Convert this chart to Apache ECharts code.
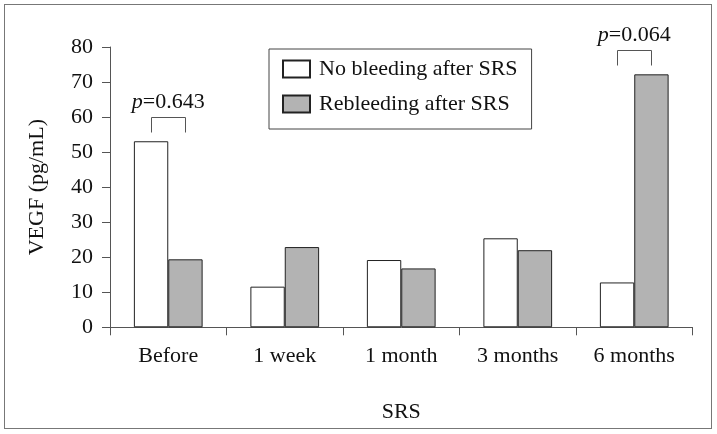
<!DOCTYPE html>
<html>
<head>
<meta charset="utf-8">
<script src="https://cdn.jsdelivr.net/npm/echarts@6/dist/echarts.min.js"></script>
<style>
html,body{margin:0;padding:0;background:#fff;}
#frame{position:absolute;left:4px;top:4px;width:708px;height:425px;border:1.5px solid #777;box-sizing:border-box;}
#chart{position:absolute;left:0;top:0;width:717px;height:434px;}
</style>
</head>
<body>
<div id="frame"></div>
<div id="chart"></div>
<script>
var categories = ['Before', '1 week', '1 month', '3 months', '6 months'];
var noBleeding = [53.1, 11.6, 19.2, 25.4, 12.8];
var rebleeding = [19.4, 22.9, 16.8, 22.0, 72.2];
var seriesNames = ['No bleeding after SRS', 'Rebleeding after SRS'];
var yTicks = [0, 10, 20, 30, 40, 50, 60, 70, 80];
var pCategories = [0, 4];
var pValues = ['0.643', '0.064'];
var pBracketLevels = [60, 79.2];

var FONT = 'Liberation Serif';
var FS = 22;
var AXIS = '#555';
var BAR_FRAC = 0.295;

function draw() {
  var chart = echarts.init(document.getElementById('chart'), null, {renderer: 'canvas'});
  var annData = pCategories.map(function (c, i) { return [c, pBracketLevels[i], pValues[i]]; });

  var option = {
    animation: false,
    textStyle: {fontFamily: FONT},
    grid: {left: 110, right: 24.5, top: 47, bottom: 106.7},
    legend: {
      left: 269, top: 49,
      orient: 'vertical',
      itemWidth: 27, itemHeight: 17, itemGap: 13,
      padding: [9, 14, 14, 13],
      borderColor: '#444', borderWidth: 1,
      textStyle: {fontFamily: FONT, fontSize: FS, color: '#111', padding: [0, 0, 0, 4]},
      data: seriesNames.map(function (n) { return {name: n, icon: 'rect'}; })
    },
    xAxis: {
      type: 'category',
      data: categories,
      name: 'SRS',
      nameLocation: 'middle',
      nameGap: 74,
      nameTextStyle: {fontFamily: FONT, fontSize: FS, color: '#111'},
      axisLine: {lineStyle: {color: AXIS, width: 1}},
      axisTick: {show: true, length: 8, lineStyle: {color: AXIS}},
      axisLabel: {fontFamily: FONT, fontSize: FS, color: '#111', margin: 18}
    },
    yAxis: {
      type: 'value',
      min: yTicks[0], max: yTicks[yTicks.length - 1], interval: 10,
      name: 'VEGF (pg/mL)',
      nameLocation: 'middle',
      nameGap: 62,
      nameRotate: 90,
      nameTextStyle: {fontFamily: FONT, fontSize: FS, color: '#111'},
      axisLine: {show: true, lineStyle: {color: AXIS, width: 1}},
      axisTick: {show: true, length: 8, lineStyle: {color: AXIS}},
      axisLabel: {fontFamily: FONT, fontSize: FS, color: '#111', margin: 17},
      splitLine: {show: false}
    },
    series: [
      {
        name: seriesNames[0], type: 'bar', data: noBleeding,
        barWidth: (BAR_FRAC * 100) + '%', barGap: '0%',
        itemStyle: {color: '#ffffff', borderColor: '#222', borderWidth: 1}
      },
      {
        name: seriesNames[1], type: 'bar', data: rebleeding,
        barWidth: (BAR_FRAC * 100) + '%', barGap: '0%',
        itemStyle: {color: '#b3b3b3', borderColor: '#222', borderWidth: 1}
      },
      {
        type: 'custom',
        clip: false,
        silent: true,
        data: annData,
        renderItem: function (params, api) {
          var c = api.value(0);
          var lvl = api.value(1);
          var label = annData[params.dataIndex][2];
          var top = api.coord([c, lvl]);
          var band = api.size([1, 0])[0];
          var half = band * BAR_FRAC / 2;
          var xl = Math.round(top[0] - half) + 0.5;
          var xr = Math.round(top[0] + half) + 0.5;
          var yt = Math.round(top[1]) + 0.5;
          var legs = 15;
          return {
            type: 'group',
            children: [
              {type: 'polyline', shape: {points: [[xl, yt + legs], [xl, yt], [xr, yt], [xr, yt + legs]]},
               style: {stroke: '#555', lineWidth: 1, fill: null}},
              {type: 'text', x: top[0], y: yt - 15,
               style: {rich: {i: {fontFamily: FONT, fontSize: FS, fontStyle: 'italic', fill: '#111'},
                              n: {fontFamily: FONT, fontSize: FS, fill: '#111'}},
                       text: '{i|p}{n|=' + label + '}', align: 'center', verticalAlign: 'middle'}}
            ]
          };
        }
      }
    ]
  };
  chart.setOption(option);
}

if (document.fonts && document.fonts.load) {
  Promise.all([
    document.fonts.load(FS + 'px "Liberation Serif"'),
    document.fonts.load('italic ' + FS + 'px "Liberation Serif"')
  ]).then(draw, draw);
} else {
  draw();
}
</script>
</body>
</html>
